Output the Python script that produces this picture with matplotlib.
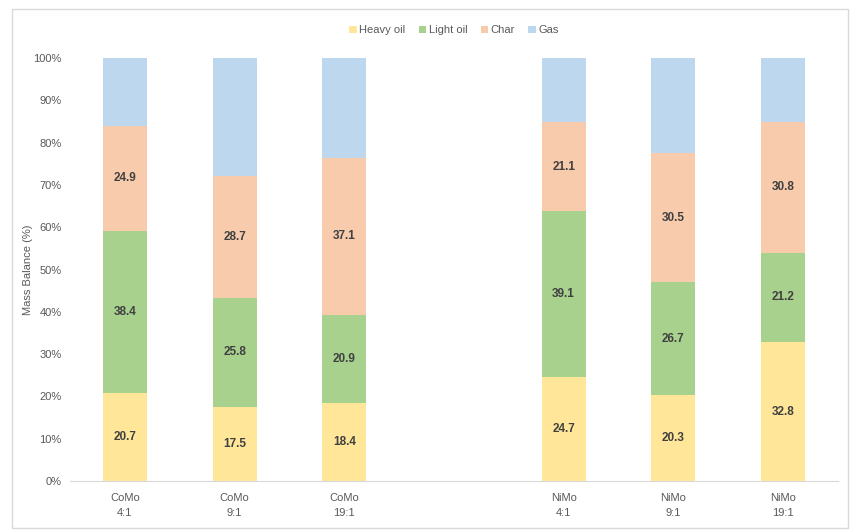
import matplotlib.pyplot as plt
from matplotlib.patches import Rectangle
from matplotlib.ticker import FuncFormatter, MultipleLocator

plt.rcParams['font.family'] = ['Liberation Sans Narrow', 'Liberation Sans', 'DejaVu Sans']

categories = ["CoMo\n4:1", "CoMo\n9:1", "CoMo\n19:1", "", "NiMo\n4:1", "NiMo\n9:1", "NiMo\n19:1"]
heavy_oil = [20.7, 17.5, 18.4, 0, 24.7, 20.3, 32.8]
light_oil = [38.4, 25.8, 20.9, 0, 39.1, 26.7, 21.2]
char = [24.9, 28.7, 37.1, 0, 21.1, 30.5, 30.8]
gas = [16.0, 28.0, 23.6, 0, 15.1, 22.5, 15.2]

series = [("Heavy oil", heavy_oil, "#FFE699"),
          ("Light oil", light_oil, "#A9D18E"),
          ("Char", char, "#F8CBAD"),
          ("Gas", gas, "#BDD7EE")]

fig = plt.figure(figsize=(8.59, 5.32), dpi=100)
ax = fig.add_axes([0.0815, 0.0959, 0.894, 0.795])

x = list(range(len(categories)))
bottom = [0.0] * len(categories)
for name, vals, color in series:
    ax.bar(x, vals, width=0.4, bottom=bottom, color=color, label=name, zorder=2)
    if name != "Gas":
        for xi, v, b in zip(x, vals, bottom):
            if v > 0:
                ax.text(xi, b + v / 2, f"{v:.1f}", ha="center", va="center",
                        fontsize=8.5, color="#404040", fontweight="bold")
    bottom = [b + v for b, v in zip(bottom, vals)]

ax.set_xlim(-0.5, len(categories) - 0.5)
ax.set_ylim(0, 100)
ax.yaxis.set_major_locator(MultipleLocator(10))
ax.yaxis.set_major_formatter(FuncFormatter(lambda v, p: f"{v:.0f}%"))
ax.set_xticks([i for i, c in enumerate(categories) if c])
ax.set_xticklabels([c for c in categories if c], linespacing=1.6)
ax.tick_params(axis="both", length=0, labelsize=8, colors="#595959")
ax.tick_params(axis="x", pad=9)
ax.tick_params(axis="y", pad=6)
for s in ["top", "right", "left"]:
    ax.spines[s].set_visible(False)
ax.spines["bottom"].set_color("#D9D9D9")
ax.set_ylabel("Mass Balance (%)", fontsize=8, color="#595959", labelpad=0)

ax.legend(loc="lower center", bbox_to_anchor=(0.5, 1.03), ncol=4, frameon=False,
          fontsize=8, handlelength=0.7, handleheight=0.7, columnspacing=1.2,
          handletextpad=0.2, labelcolor="#595959")

fig.patches.append(Rectangle((0.014, 0.008), 0.973, 0.976, transform=fig.transFigure,
                             fill=False, edgecolor="#D9D9D9", linewidth=1))

fig.savefig("out.png", dpi=100)
